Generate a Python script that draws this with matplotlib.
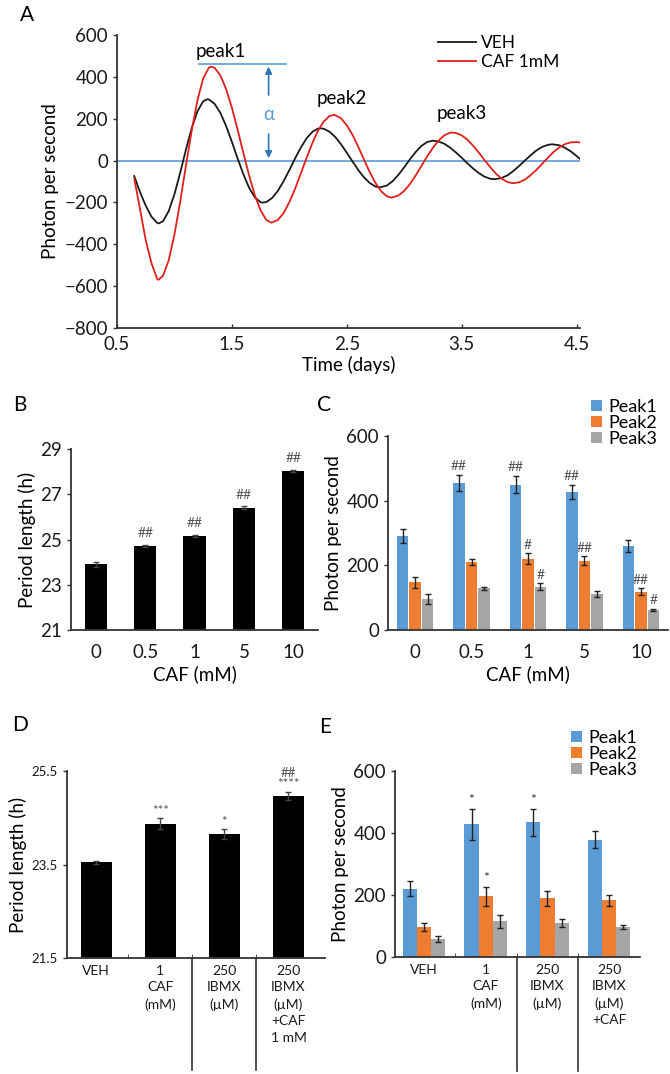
import matplotlib
matplotlib.use("Agg")
import matplotlib.pyplot as plt
import numpy as np

plt.rcParams['font.family'] = ['Lato', 'DejaVu Sans']
plt.rcParams['axes.unicode_minus'] = True

# ---------------- Panel A data ----------------
time_veh = [0.65, 0.70, 0.75, 0.80, 0.85, 0.865, 0.90, 0.95, 1.00, 1.05, 1.10, 1.15, 1.20, 1.25, 1.285,
            1.30, 1.35, 1.40, 1.45, 1.50, 1.55, 1.60, 1.65, 1.70, 1.75, 1.77, 1.80, 1.85, 1.90, 1.95,
            2.00, 2.05, 2.10, 2.15, 2.20, 2.25, 2.27, 2.30, 2.35, 2.40, 2.45, 2.50, 2.55, 2.60, 2.65,
            2.70, 2.75, 2.79, 2.85, 2.90, 2.95, 3.00, 3.05, 3.10, 3.15, 3.20, 3.25, 3.30, 3.35, 3.40,
            3.45, 3.50, 3.55, 3.60, 3.65, 3.70, 3.75, 3.79, 3.85, 3.90, 3.95, 4.00, 4.05, 4.10, 4.15,
            4.20, 4.25, 4.29, 4.35, 4.40, 4.45, 4.50, 4.53]
veh = [-74, -150, -215, -268, -298, -300, -290, -242, -161, -59, 52, 154, 235, 283, 293,
       292, 271, 228, 165, 90, 10, -65, -130, -176, -199, -201, -198, -179, -145, -99,
       -46, 10, 62, 106, 137, 153, 154, 152, 138, 113, 78, 38, -4, -45, -80,
       -107, -124, -128, -119, -98, -68, -32, 6, 41, 70, 89, 95, 91, 80, 62,
       39, 14, -13, -38, -60, -77, -87, -89, -83, -70, -50, -26, 0, 25, 48,
       65, 75, 78, 73, 61, 44, 22, 8]

time_caf = [0.65, 0.70, 0.75, 0.80, 0.85, 0.86, 0.90, 0.95, 1.00, 1.05, 1.10, 1.15, 1.20, 1.25, 1.30,
            1.32, 1.35, 1.40, 1.45, 1.50, 1.55, 1.60, 1.65, 1.70, 1.75, 1.80, 1.845, 1.90, 1.95, 2.00,
            2.05, 2.10, 2.15, 2.20, 2.25, 2.30, 2.35, 2.385, 2.40, 2.45, 2.50, 2.55, 2.60, 2.65, 2.70,
            2.75, 2.80, 2.85, 2.89, 2.95, 3.00, 3.05, 3.10, 3.15, 3.20, 3.25, 3.30, 3.35, 3.40, 3.42,
            3.45, 3.50, 3.55, 3.60, 3.65, 3.70, 3.75, 3.80, 3.85, 3.90, 3.95, 4.00, 4.05, 4.10, 4.15,
            4.20, 4.25, 4.30, 4.35, 4.40, 4.45, 4.50, 4.53]
caf = [-85, -230, -380, -490, -565, -570, -551, -477, -354, -198, -25, 142, 287, 392, 444,
       449, 443, 407, 342, 253, 148, 37, -71, -166, -238, -284, -297, -284, -251, -199,
       -135, -62, 12, 83, 143, 187, 213, 218, 217, 202, 169, 123, 66, 5, -55,
       -107, -147, -171, -177, -167, -145, -112, -71, -26, 20, 61, 96, 121, 133, 134,
       132, 121, 100, 71, 38, 2, -32, -63, -87, -103, -108, -104, -91, -70, -45,
       -16, 13, 41, 63, 79, 87, 88, 87]

# ---------------- Panel B data ----------------
b_labels = ['0', '0.5', '1', '5', '10']
b_period = [23.9, 24.73, 25.17, 26.41, 28.03]
b_err = [0.10, 0.05, 0.04, 0.05, 0.05]
b_marks = ['', '##', '##', '##', '##']

# ---------------- Panel C data ----------------
c_labels = ['0', '0.5', '1', '5', '10']
c_peak1 = [291, 455, 450, 427, 259]
c_peak1_err = [23, 24, 26, 23, 19]
c_peak2 = [147, 211, 221, 214, 118]
c_peak2_err = [18, 10, 16, 14, 11]
c_peak3 = [95, 129, 134, 111, 62]
c_peak3_err = [16, 5, 10, 9, 4]
c_marks1 = ['', '##', '##', '##', '']
c_marks2 = ['', '', '#', '##', '##']
c_marks3 = ['', '', '#', '', '#']

# ---------------- Panel D data ----------------
d_labels = ['VEH', '1\nCAF\n(mM)', '250\nIBMX\n(µM)', '250\nIBMX\n(µM)\n+CAF\n1 mM']
d_period = [23.55, 24.37, 24.15, 24.97]
d_err = [0.03, 0.12, 0.10, 0.09]
d_marks = ['', '***', '*', '##\n****']

# ---------------- Panel E data ----------------
e_labels = ['VEH', '1\nCAF\n(mM)', '250\nIBMX\n(µM)', '250\nIBMX\n(µM)\n+CAF']
e_peak1 = [221, 428, 434, 379]
e_peak1_err = [25, 51, 43, 28]
e_peak2 = [97, 196, 189, 183]
e_peak2_err = [14, 30, 24, 18]
e_peak3 = [58, 116, 111, 97]
e_peak3_err = [10, 21, 13, 7]
e_marks1 = ['', '*', '*', '']
e_marks2 = ['', '*', '', '']
e_marks3 = ['', '', '', '']

BLUE = '#5B9BD5'
ORANGE = '#ED7D31'
GRAY = '#A5A5A5'
SPINE = '#333333'
FS = 13.5
SMALL = 10

fig = plt.figure(figsize=(6.7, 10.74), dpi=100)


def style_axes(ax):
    for s in ['top', 'right']:
        ax.spines[s].set_visible(False)
    for s in ['left', 'bottom']:
        ax.spines[s].set_color(SPINE)
        ax.spines[s].set_linewidth(1.3)
    ax.tick_params(axis='both', colors=SPINE, labelcolor='#1a1a1a', labelsize=FS, width=1.0)


def leg_squares(ax, anchor):
    ax.legend(loc='upper left', bbox_to_anchor=anchor, bbox_transform=fig.transFigure,
              frameon=False, fontsize=13, handlelength=0.6, handleheight=0.6, borderaxespad=0,
              borderpad=0, labelspacing=0.0, handletextpad=0.35)


# ---------------- Panel A ----------------
axA = fig.add_axes([0.1746, 0.6946, 0.691, 0.2728])
style_axes(axA)
axA.axhline(0, color=BLUE, lw=1.2, zorder=1)
axA.plot(time_veh, veh, color='#1a1a1a', lw=1.3, label='VEH', zorder=3)
axA.plot(time_caf, caf, color='#E0201B', lw=1.3, label='CAF 1mM', zorder=3)
axA.plot([1.213, 1.967], [460, 460], color=BLUE, lw=1.2, zorder=1)
axA.annotate('', xy=(1.82, 462), xytext=(1.82, 300),
             arrowprops=dict(arrowstyle='-|>', color='#2E75B6', lw=1.2, mutation_scale=10))
axA.annotate('', xy=(1.82, -2), xytext=(1.82, 140),
             arrowprops=dict(arrowstyle='-|>', color='#2E75B6', lw=1.2, mutation_scale=10))
axA.text(1.82, 218, 'α', color=BLUE, fontsize=FS, ha='center', va='center')
axA.text(1.40, 520, 'peak1', fontsize=FS, ha='center', va='center')
axA.text(2.46, 298, 'peak2', fontsize=FS, ha='center', va='center')
axA.text(3.50, 223, 'peak3', fontsize=FS, ha='center', va='center')
axA.set_xlim(0.5, 4.53)
axA.set_ylim(-800, 600)
axA.set_xticks([0.5, 1.5, 2.5, 3.5, 4.5])
axA.set_xticklabels(['0.5', '1.5', '2.5', '3.5', '4.5'])
axA.set_yticks(np.arange(-800, 601, 200))
axA.tick_params(axis='x', direction='in', length=3, pad=6)
axA.tick_params(axis='y', direction='out', length=3)
axA.set_ylabel('Photon per second', fontsize=FS, labelpad=4)
axA.set_xlabel('Time (days)', fontsize=FS, labelpad=2)
axA.legend(loc='upper left', bbox_to_anchor=(0.653, 0.967), bbox_transform=fig.transFigure,
           frameon=False, fontsize=12.5, handlelength=2.2, borderaxespad=0, borderpad=0,
           labelspacing=0.15, handletextpad=0.3)
fig.text(27 / 670, 1 - 15 / 1074, 'A', fontsize=15, ha='center', va='center')

# ---------------- Panel B ----------------
axB = fig.add_axes([0.106, 0.4134, 0.3687, 0.1685])
style_axes(axB)
xb = np.arange(len(b_labels))
axB.bar(xb, [v - 21 for v in b_period], bottom=21, width=0.45, color='black',
        yerr=b_err, error_kw=dict(ecolor='#444', elinewidth=1, capsize=2, capthick=1))
for i, m in enumerate(b_marks):
    if m:
        axB.annotate(m, (xb[i], b_period[i] + b_err[i]), xytext=(0, 4), textcoords='offset points',
                     ha='center', va='bottom', fontsize=SMALL, color='#555555')
axB.set_xlim(-0.5, 4.5)
axB.set_ylim(21, 29)
axB.set_yticks([21, 23, 25, 27, 29])
axB.set_xticks(xb)
axB.set_xticklabels(b_labels)
axB.tick_params(axis='x', length=0, pad=10)
axB.tick_params(axis='y', direction='out', length=3)
axB.set_ylabel('Period length (h)', fontsize=FS, labelpad=3)
axB.set_xlabel('CAF (mM)', fontsize=FS, labelpad=3)
fig.text(20 / 670, 1 - 405 / 1074, 'B', fontsize=15, ha='center', va='center')

# ---------------- Panel C ----------------
axC = fig.add_axes([0.5791, 0.4134, 0.4179, 0.1806])
style_axes(axC)
xc = np.arange(len(c_labels))
ek = dict(ecolor='#222', elinewidth=1, capsize=2, capthick=1)
series_c = [(c_peak1, c_peak1_err, c_marks1, BLUE, 'Peak1', -0.22),
            (c_peak2, c_peak2_err, c_marks2, ORANGE, 'Peak2', 0.0),
            (c_peak3, c_peak3_err, c_marks3, GRAY, 'Peak3', 0.22)]
for vals, errs, marks, col, lab, off in series_c:
    axC.bar(xc + off, vals, width=0.2, color=col, yerr=errs, error_kw=ek, label=lab)
    for i, m in enumerate(marks):
        if m:
            axC.annotate(m, (xc[i] + off, vals[i] + errs[i]), xytext=(0, 2), textcoords='offset points',
                         ha='center', va='bottom', fontsize=SMALL, color='#555555')
axC.set_xlim(-0.48, 4.48)
axC.set_ylim(0, 600)
axC.set_yticks([0, 200, 400, 600])
axC.set_xticks(xc)
axC.set_xticklabels(c_labels)
axC.tick_params(axis='x', length=0, pad=10)
axC.tick_params(axis='y', direction='out', length=3)
axC.set_ylabel('Photon per second', fontsize=FS, labelpad=3)
axC.set_xlabel('CAF (mM)', fontsize=FS, labelpad=3)
leg_squares(axC, (0.882, 0.6285))
fig.text(324 / 670, 1 - 405 / 1074, 'C', fontsize=15, ha='center', va='center')

# ---------------- Panel D ----------------
axD = fig.add_axes([0.0996, 0.108, 0.3855, 0.1741])
style_axes(axD)
xd = np.arange(len(d_labels))
axD.bar(xd, [v - 21.5 for v in d_period], bottom=21.5, width=0.48, color='black',
        yerr=d_err, error_kw=dict(ecolor='#444', elinewidth=1, capsize=2, capthick=1))
for i, m in enumerate(d_marks):
    if m:
        axD.annotate(m, (xd[i], d_period[i] + d_err[i]), xytext=(0, 1), textcoords='offset points',
                     ha='center', va='bottom', fontsize=9.5, color='#555555', linespacing=0.9)
axD.set_xlim(-0.46, 3.57)
axD.set_ylim(21.5, 25.5)
axD.set_yticks([21.5, 23.5, 25.5])
axD.set_yticklabels(['21.5', '23.5', '25.5'])
axD.set_xticks(xd)
axD.set_xticklabels(d_labels, fontsize=10, linespacing=1.45, va='top')
axD.set_xticks([0.5, 1.5, 2.5], minor=True)
axD.tick_params(axis='x', which='major', length=0, pad=5)
axD.tick_params(axis='x', which='minor', length=3, direction='in', color=SPINE)
axD.tick_params(axis='y', direction='out', length=3, labelsize=9.5)
for xs in [1.5, 2.5]:
    axD.axvline(xs, ymin=-0.60, ymax=0, clip_on=False, color=SPINE, lw=1.2)
axD.set_ylabel('Period length (h)', fontsize=FS, labelpad=3)
fig.text(20 / 670, 1 - 725 / 1074, 'D', fontsize=15, ha='center', va='center')

# ---------------- Panel E ----------------
axE = fig.add_axes([0.5896, 0.1089, 0.3657, 0.1732])
style_axes(axE)
xe = np.arange(len(e_labels))
series_e = [(e_peak1, e_peak1_err, e_marks1, BLUE, 'Peak1', -0.23),
            (e_peak2, e_peak2_err, e_marks2, ORANGE, 'Peak2', 0.0),
            (e_peak3, e_peak3_err, e_marks3, GRAY, 'Peak3', 0.23)]
for vals, errs, marks, col, lab, off in series_e:
    axE.bar(xe + off, vals, width=0.23, color=col, yerr=errs, error_kw=ek, label=lab)
    for i, m in enumerate(marks):
        if m:
            axE.annotate(m, (xe[i] + off, vals[i] + errs[i]), xytext=(0, 2), textcoords='offset points',
                         ha='center', va='bottom', fontsize=SMALL, color='#333333')
axE.set_xlim(-0.47, 3.5)
axE.set_ylim(0, 600)
axE.set_yticks([0, 200, 400, 600])
axE.set_xticks(xe)
axE.set_xticklabels(e_labels, fontsize=10, linespacing=1.45, va='top')
axE.set_xticks([0.5, 1.5, 2.5], minor=True)
axE.tick_params(axis='x', which='major', length=0, pad=5)
axE.tick_params(axis='x', which='minor', length=3, direction='in', color=SPINE)
axE.tick_params(axis='y', direction='out', length=3)
for xs in [1.5, 2.5]:
    axE.axvline(xs, ymin=-0.61, ymax=0, clip_on=False, color=SPINE, lw=1.2)
axE.set_ylabel('Photon per second', fontsize=FS, labelpad=3)
leg_squares(axE, (0.852, 0.3205))
fig.text(325 / 670, 1 - 727 / 1074, 'E', fontsize=15, ha='center', va='center')

fig.savefig('out.png', dpi=100)
